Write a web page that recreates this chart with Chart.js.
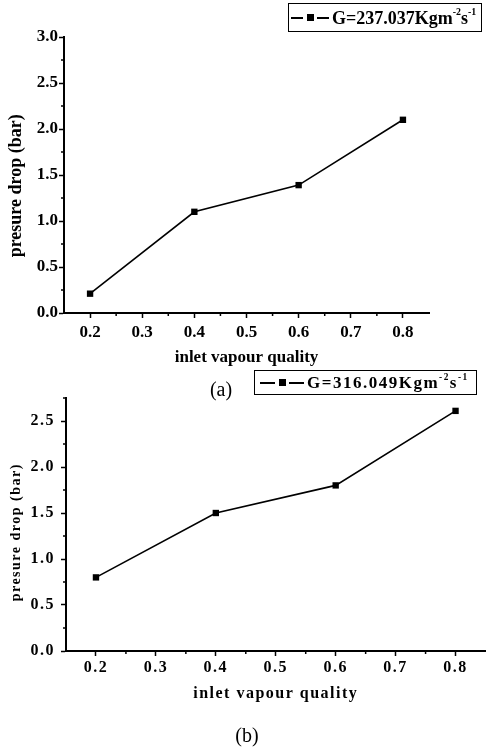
<!DOCTYPE html>
<html>
<head>
<meta charset="utf-8">
<script src="https://cdn.jsdelivr.net/npm/chart.js@4.4.1/dist/chart.umd.min.js"></script>
<style>
  body { margin: 0; background: #fff; }
  #page { position: relative; width: 490px; height: 748px; overflow: hidden;
          font-family: "Liberation Serif", "Times New Roman", serif; color: #000; }
  canvas { position: absolute; left: 0; }
  .leg { position: absolute; border: 1px solid #000; box-sizing: border-box; font-weight: bold;
         display: flex; align-items: center; white-space: nowrap; line-height: 1; }
  .sym { position: relative; display: inline-block; width: 38px; height: 8px; margin-right: 3px; flex: none; }
  .sym i { position: absolute; top: 3px; width: 12px; height: 2px; background: #000; }
  .sym i.l { left: 0; }
  .sym i.r { right: 0; }
  .sym b { position: absolute; top: 0; left: 50%; width: 7px; height: 7px; margin-left: -3.5px; background: #000; }
  .leg sup { font-size: 55%; position: relative; top: -0.55em; vertical-align: baseline; }
  .cap { position: absolute; width: 60px; text-align: center; font-size: 20px; line-height: 22px; }
</style>
</head>
<body>
<div id="page">
  <canvas id="chartA" width="490" height="380" style="top:0"></canvas>
  <canvas id="chartB" width="490" height="368" style="top:380px"></canvas>

  <div class="leg" style="left:288px; top:3px; width:194px; height:29px; font-size:18px; padding-left:2px;">
    <span class="sym"><i class="l"></i><b></b><i class="r"></i></span>G=237.037Kgm<sup>-2</sup>s<sup>-1</sup>
  </div>
  <div class="leg" style="left:254px; top:370px; width:223px; height:25px; font-size:17px; padding-left:5px; letter-spacing:1.5px;">
    <span class="sym" style="width:44px"><i class="l" style="width:15px"></i><b></b><i class="r" style="width:15px"></i></span>G=316.049Kgm<sup>-2</sup>s<sup>-1</sup>
  </div>

  <div class="cap" style="left:191px; top:378px;">(a)</div>
  <div class="cap" style="left:217px; top:724px;">(b)</div>
</div>

<script>
// inlet vapour quality (x) and pressure drop in bar (y)
const quality = [0.2, 0.4, 0.6, 0.8];
const dropA = [0.21, 1.1, 1.39, 2.1];   // G = 237.037
const dropB = [0.8, 1.5, 1.8, 2.61];    // G = 316.049

const xTicks = [0.2, 0.3, 0.4, 0.5, 0.6, 0.7, 0.8];
const xMinor = [0.25, 0.35, 0.45, 0.55, 0.65, 0.75];
const yTicksA = [0, 0.5, 1.0, 1.5, 2.0, 2.5, 3.0];
const yMinorA = [0.25, 0.75, 1.25, 1.75, 2.25, 2.75];
const yTicksB = [0, 0.5, 1.0, 1.5, 2.0, 2.5];
const yMinorB = [0.25, 0.75, 1.25, 1.75, 2.25, 2.75];

const serif = '"Liberation Serif", "Times New Roman", serif';

// short unlabelled ticks between the labelled ones
const minorTicks = {
    id: 'minorTicks',
    afterDraw(chart, args, opts) {
        if (!opts.x) return;
        const ctx = chart.ctx;
        const sx = chart.scales.x, sy = chart.scales.y;
        ctx.save();
        ctx.strokeStyle = '#000';
        ctx.lineWidth = 1.5;
        ctx.beginPath();
        opts.x.forEach(v => {
            const px = sx.getPixelForValue(v);
            ctx.moveTo(px, sx.top);
            ctx.lineTo(px, sx.top + 3);
        });
        opts.y.forEach(v => {
            const py = sy.getPixelForValue(v);
            ctx.moveTo(sy.right, py);
            ctx.lineTo(sy.right - 3, py);
        });
        ctx.stroke();
        ctx.restore();
    }
};

// the lower figure uses spaced-out lettering
const spacing = {
    id: 'spacing',
    beforeDraw(chart, args, opts) {
        chart.ctx.letterSpacing = opts.px || '0px';
    }
};

Chart.register(minorTicks, spacing);

function makeChart(id, values, yMax, yTicks, yMinor, g) {
    const ctx = document.getElementById(id).getContext('2d');
    return new Chart(ctx, {
        type: 'line',
        data: {
            datasets: [{
                data: quality.map((q, i) => ({ x: q, y: values[i] })),
                borderColor: '#000',
                borderWidth: 1.6,
                tension: 0,
                pointStyle: 'rect',
                pointRadius: 4.5,
                pointBackgroundColor: '#000',
                pointBorderWidth: 0,
                clip: false
            }]
        },
        options: {
            responsive: false,
            animation: false,
            layout: { padding: g.padding },
            plugins: {
                legend: { display: false },
                tooltip: { enabled: false },
                minorTicks: { x: xMinor, y: yMinor },
                spacing: { px: g.spacing }
            },
            scales: {
                x: {
                    type: 'linear',
                    min: 0.15,
                    max: 0.85,
                    afterBuildTicks: s => { s.ticks = xTicks.map(v => ({ value: v })); },
                    afterFit: s => { s.height = g.xHeight; },
                    border: { color: '#000', width: 2 },
                    grid: { drawOnChartArea: false, drawTicks: true, tickLength: 5, tickColor: '#000', tickWidth: 1.5 },
                    ticks: {
                        color: '#000',
                        padding: g.xTickPad,
                        maxRotation: 0,
                        font: { family: serif, size: g.tickSize, weight: 'bold' },
                        callback: v => v.toFixed(1)
                    },
                    title: {
                        display: true,
                        text: 'inlet vapour quality',
                        color: '#000',
                        font: { family: serif, size: g.titleSize, weight: 'bold' },
                        padding: { top: 0, bottom: g.xTitlePad }
                    }
                },
                y: {
                    min: 0,
                    max: yMax,
                    afterBuildTicks: s => { s.ticks = yTicks.map(v => ({ value: v })); },
                    afterFit: s => { s.width = g.yWidth; },
                    border: { color: '#000', width: 2 },
                    grid: { drawOnChartArea: false, drawTicks: true, tickLength: 5, tickColor: '#000', tickWidth: 1.5 },
                    ticks: {
                        color: '#000',
                        padding: g.yTickPad,
                        font: { family: serif, size: g.tickSize, weight: 'bold' },
                        callback: v => v.toFixed(1)
                    },
                    title: {
                        display: true,
                        // trailing space nudges the rotated title a little lower, as in the original
                        text: 'presure drop (bar)' + g.yTitleTail,
                        color: '#000',
                        font: { family: serif, size: g.yTitleSize, weight: 'bold' },
                        padding: { top: g.yTitlePad, bottom: 0 }
                    }
                }
            }
        }
    });
}

makeChart('chartA', dropA, 3.0, yTicksA, yMinorA, {
    padding: { left: 0, top: 37, right: 61, bottom: 0 },
    xHeight: 67, yWidth: 64,
    tickSize: 17, titleSize: 17, yTitleSize: 18,
    xTickPad: 4, yTickPad: 1, xTitlePad: 12, yTitlePad: 6,
    yTitleTail: '\u2003\u2009',
    spacing: '0px'
});

makeChart('chartB', dropB, 2.75, yTicksB, yMinorB, {
    padding: { left: 0, top: 18, right: 1, bottom: 0 },
    xHeight: 97, yWidth: 66,
    tickSize: 16, titleSize: 16, yTitleSize: 14,
    xTickPad: 2, yTickPad: 6, xTitlePad: 45, yTitlePad: 8,
    yTitleTail: '\u2003',
    spacing: '1.5px'
});
</script>
</body>
</html>
